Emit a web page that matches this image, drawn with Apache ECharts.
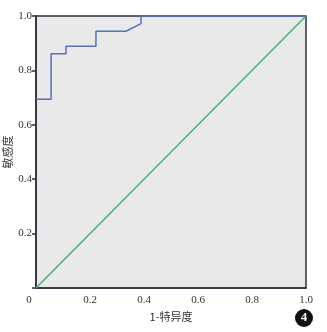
<!DOCTYPE html>
<html><head><meta charset="utf-8">
<script src="https://cdn.jsdelivr.net/npm/echarts@6/dist/echarts.min.js"></script>
<style>html,body{margin:0;padding:0;background:#fff}#c{width:327px;height:332px}</style>
</head><body><div id="c"></div>
<script>
const rocX = [0, 0.056, 0.056, 0.111, 0.111, 0.222, 0.222, 0.333, 0.389, 0.389, 1.0];
const rocY = [0.694, 0.694, 0.861, 0.861, 0.889, 0.889, 0.944, 0.944, 0.972, 1.0, 1.0];
const refX = [0, 1];
const refY = [0, 1];
const ticks = [0, 0.2, 0.4, 0.6, 0.8, 1.0];
const xName = '1-特异度';
const yName = '敏感度';

const chart = echarts.init(document.getElementById('c'), null, {renderer: 'canvas'});
const serif = '"Liberation Serif", "DejaVu Serif", serif';
const fmt = v => (v === 0 ? '0' : v.toFixed(1));
chart.setOption({
  animation: false,
  backgroundColor: '#fff',
  grid: {left: 36, top: 16, width: 270, height: 272, show: true, containLabel: false, outerBoundsMode: 'none',
         backgroundColor: '#e9e9e9', borderColor: '#2e2e3e', borderWidth: 1.5},
  xAxis: {type: 'value', min: 0, max: 1, interval: 0.2,
    name: xName, nameLocation: 'middle', nameGap: 22,
    nameTextStyle: {fontFamily: '"Noto Sans CJK SC"', fontSize: 11, color: '#333'},
    axisLine: {show: true, lineStyle: {color: '#2e2e3e', width: 1.5}},
    axisTick: {show: false}, splitLine: {show: false},
    axisLabel: {fontFamily: serif, fontSize: 11, color: '#333', margin: 7,
      formatter: v => v === 0 ? '{z|0}' : fmt(v),
      rich: {z: {fontFamily: serif, fontSize: 11, color: '#333', padding: [0, 14, 0, 0]}}}
  },
  yAxis: {type: 'value', min: 0, max: 1, interval: 0.2,
    axisLine: {show: true, lineStyle: {color: '#2e2e3e', width: 1.5}},
    axisTick: {show: true, length: 4, lineStyle: {color: '#2e2e3e', width: 1.5}},
    splitLine: {show: false},
    axisLabel: {fontFamily: serif, fontSize: 11, color: '#333', margin: 4, formatter: v => v === 0 ? '' : fmt(v)}
  },
  series: [
    {type: 'line', data: refX.map((x, i) => [x, refY[i]]), symbol: 'none',
     lineStyle: {color: '#43b46a', width: 1.5}, z: 2},
    {type: 'line', data: rocX.map((x, i) => [x, rocY[i]]), symbol: 'none',
     lineStyle: {color: '#5a70b0', width: 1.5}, z: 3}
  ],
  graphic: [
    {type: 'text', x: 8, y: 152, rotation: Math.PI / 2,
     style: {text: yName, fill: '#333', font: '11px "Noto Sans CJK SC"', align: 'center', verticalAlign: 'middle'}},
    {type: 'circle', shape: {cx: 304, cy: 318, r: 9}, style: {fill: '#111'}},
    {type: 'text', x: 304, y: 318, style: {text: '4', fill: '#fff', font: 'bold 13px ' + serif, align: 'center', verticalAlign: 'middle'}}
  ]
});
</script></body></html>
